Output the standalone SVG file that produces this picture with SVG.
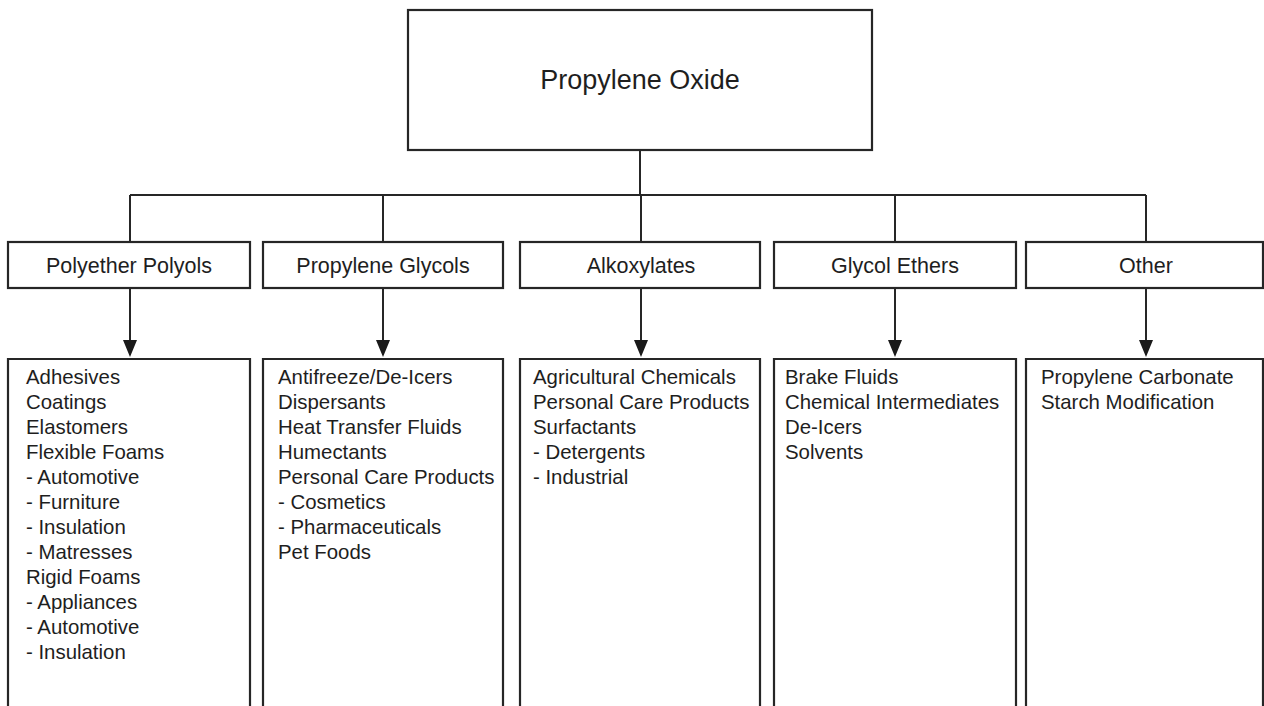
<svg xmlns="http://www.w3.org/2000/svg" width="1264" height="706" viewBox="0 0 1264 706">
<style>
.box{fill:#fff;stroke:#262626;stroke-width:2.2}
.ln{fill:none;stroke:#262626;stroke-width:2}
.t{font-family:"Liberation Sans",Arial,sans-serif;fill:#1e1e1e}
.title{font-size:27px;text-anchor:middle}
.cat{font-size:21.5px;text-anchor:middle}
.lst{font-size:20.4px}
</style>
<defs>
<marker id="arr" markerWidth="14" markerHeight="17" refX="7" refY="17" orient="auto-start-reverse" markerUnits="userSpaceOnUse" viewBox="0 0 14 17">
<path d="M0,0 L14,0 L7,17 Z" fill="#1a1a1a" transform="rotate(0)"/>
</marker>
</defs>
<rect width="1264" height="706" fill="#fff"/>
<g id="connectors">
<path class="ln" d="M640,150 V195 M130,195 H1146 M130,195 V242 M383,195 V242 M641,195 V242 M895,195 V242 M1146,195 V242"/>
<path class="ln" d="M130,288 V342"/>
<path class="ln" d="M383,288 V342"/>
<path class="ln" d="M641,288 V342"/>
<path class="ln" d="M895,288 V342"/>
<path class="ln" d="M1146,288 V342"/>
<path d="M123,340 L137,340 L130,357 Z M376,340 L390,340 L383,357 Z M634,340 L648,340 L641,357 Z M888,340 L902,340 L895,357 Z M1139,340 L1153,340 L1146,357 Z" fill="#1a1a1a"/>
</g>
<g id="root">
<rect class="box" x="408" y="10" width="464" height="140"/>
<text class="t title" x="640" y="89">Propylene Oxide</text>
</g>
<g id="cat-polyether">
<rect class="box" x="8" y="242" width="242" height="46"/>
<text class="t cat" x="129" y="273">Polyether Polyols</text>
</g>
<g id="cat-glycols">
<rect class="box" x="263" y="242" width="240" height="46"/>
<text class="t cat" x="383" y="273">Propylene Glycols</text>
</g>
<g id="cat-alkoxylates">
<rect class="box" x="520" y="242" width="240" height="46"/>
<text class="t cat" x="641" y="273">Alkoxylates</text>
</g>
<g id="cat-ethers">
<rect class="box" x="774" y="242" width="242" height="46"/>
<text class="t cat" x="895" y="273">Glycol Ethers</text>
</g>
<g id="cat-other">
<rect class="box" x="1026" y="242" width="237" height="46"/>
<text class="t cat" x="1146" y="273">Other</text>
</g>
<g id="list-polyether">
<path class="box" d="M8,712 V359 H250 V712"/>
<text class="t lst" x="26" y="384"><tspan x="26">Adhesives</tspan><tspan x="26" dy="25">Coatings</tspan><tspan x="26" dy="25">Elastomers</tspan><tspan x="26" dy="25">Flexible Foams</tspan><tspan x="26" dy="25">- Automotive</tspan><tspan x="26" dy="25">- Furniture</tspan><tspan x="26" dy="25">- Insulation</tspan><tspan x="26" dy="25">- Matresses</tspan><tspan x="26" dy="25">Rigid Foams</tspan><tspan x="26" dy="25">- Appliances</tspan><tspan x="26" dy="25">- Automotive</tspan><tspan x="26" dy="25">- Insulation</tspan></text>
</g>
<g id="list-glycols">
<path class="box" d="M263,712 V359 H503 V712"/>
<text class="t lst" x="278" y="384"><tspan x="278">Antifreeze/De-Icers</tspan><tspan x="278" dy="25">Dispersants</tspan><tspan x="278" dy="25">Heat Transfer Fluids</tspan><tspan x="278" dy="25">Humectants</tspan><tspan x="278" dy="25">Personal Care Products</tspan><tspan x="278" dy="25">- Cosmetics</tspan><tspan x="278" dy="25">- Pharmaceuticals</tspan><tspan x="278" dy="25">Pet Foods</tspan></text>
</g>
<g id="list-alkoxylates">
<path class="box" d="M520,712 V359 H760 V712"/>
<text class="t lst" x="533" y="384"><tspan x="533">Agricultural Chemicals</tspan><tspan x="533" dy="25">Personal Care Products</tspan><tspan x="533" dy="25">Surfactants</tspan><tspan x="533" dy="25">- Detergents</tspan><tspan x="533" dy="25">- Industrial</tspan></text>
</g>
<g id="list-ethers">
<path class="box" d="M774,712 V359 H1016 V712"/>
<text class="t lst" x="785" y="384"><tspan x="785">Brake Fluids</tspan><tspan x="785" dy="25">Chemical Intermediates</tspan><tspan x="785" dy="25">De-Icers</tspan><tspan x="785" dy="25">Solvents</tspan></text>
</g>
<g id="list-other">
<path class="box" d="M1026,712 V359 H1263 V712"/>
<text class="t lst" x="1041" y="384"><tspan x="1041">Propylene Carbonate</tspan><tspan x="1041" dy="25">Starch Modification</tspan></text>
</g>
</svg>
